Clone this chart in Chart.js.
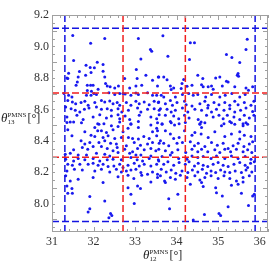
<!DOCTYPE html>
<html>
<head>
<meta charset="utf-8">
<title>theta13 vs theta12 scan</title>
<style>
  html, body { margin: 0; padding: 0; background: #fff; }
  #wrap { position: relative; width: 272px; height: 272px; }
  .axis-title { position: absolute; font-family: "Liberation Serif", serif; font-size: 12px; color: #222; white-space: nowrap; line-height: 14px; }
  .axis-title i { font-size: 13px; }
  .stack { display: inline-block; vertical-align: middle; font-size: 7px; line-height: 7px; margin: 0 1px 0 0; }
  .stack span { display: block; }
</style>
</head>
<body>
<div id="wrap">
  <canvas id="myChart" width="272" height="272"></canvas>
  <div class="axis-title" id="ytitle" style="left:1px; top:111px;"><i>θ</i><span class="stack"><span>PMNS</span><span>13</span></span>[°]</div>
  <div class="axis-title" id="xtitle" style="left:143px; top:248px;"><i>θ</i><span class="stack"><span>PMNS</span><span>12</span></span>[°]</div>
</div>
<script src="https://cdn.jsdelivr.net/npm/chart.js@4.4.1/dist/chart.umd.min.js"></script>
<script>
// axis ranges and tick labels
var xRange = [31, 36.2];
var yRange = [7.82, 9.2];
var xTicks = [31, 32, 33, 34, 35, 36];
var yTicks = [8.0, 8.2, 8.4, 8.6, 8.8, 9.0, 9.2];

// 1 sigma (red) and 3 sigma (blue) bounds
var sigma1Theta12 = [32.71, 34.21];
var sigma3Theta12 = [31.31, 35.89];
var sigma1Theta13 = [8.296, 8.704];
var sigma3Theta13 = [7.887, 9.115];

// scan points [theta12, theta13]
var scanPoints = [
  [31.50,9.07],[32.27,9.05],[31.93,9.02],[33.08,9.05],[33.37,8.98],[33.40,8.97],[31.52,8.91],[33.14,8.92],[32.09,8.90],[31.82,8.88],
  [32.23,8.885],[31.92,8.866],[32.02,8.864],[31.40,8.83],[31.66,8.84],[31.94,8.834],[33.03,8.853],[31.36,8.80],[31.38,8.796],[31.63,8.806],
  [31.81,8.817],[32.23,8.843],[32.27,8.806],[32.75,8.796],[33.05,8.796],[33.26,8.817],[33.56,8.806],[33.42,8.785],[31.61,8.774],[31.58,8.753],
  [31.85,8.753],[31.93,8.753],[31.99,8.753],[32.29,8.764],[32.33,8.749],[32.40,8.743],[32.51,8.736],[32.11,8.728],[31.85,8.72],[31.95,8.715],
  [32.60,8.749],[32.87,8.736],[33.02,8.749],[33.16,8.753],[33.54,8.749],
  [31.29,8.70],[31.40,8.689],[31.48,8.679],[31.83,8.689],[31.94,8.689],[32.01,8.70],[32.07,8.694],[32.37,8.706],[32.51,8.694],[32.63,8.70],
  [32.71,8.70],[32.76,8.698],[32.90,8.689],[33.02,8.704],[33.08,8.694],[33.30,8.706],[33.42,8.689],[33.52,8.689],
  [31.38,8.657],[31.49,8.647],[31.57,8.636],[31.70,8.643],[31.79,8.651],[31.87,8.626],[32.03,8.643],[32.19,8.657],[32.27,8.647],[32.39,8.653],
  [32.47,8.636],[32.57,8.643],[32.63,8.626],[32.79,8.643],[32.90,8.626],[33.02,8.651],[33.10,8.636],[33.22,8.647],[33.34,8.63],[33.46,8.651],[33.56,8.643],
  [31.33,8.615],[31.46,8.604],[31.56,8.594],[31.67,8.583],[31.78,8.60],[31.89,8.609],[32.07,8.615],[32.19,8.60],[32.33,8.604],[32.43,8.594],
  [32.59,8.604],[32.68,8.583],[32.84,8.594],[33.06,8.609],[33.14,8.583],[33.30,8.60],[33.46,8.604],[33.58,8.594],
  [31.36,8.551],[31.60,8.562],[31.75,8.536],[31.99,8.551],[32.15,8.566],[32.31,8.545],[32.43,8.557],[32.59,8.566],[32.63,8.54],[32.76,8.557],
  [32.87,8.536],[33.10,8.562],[33.38,8.551],[33.52,8.54],[33.58,8.566],
  [31.44,8.519],[31.52,8.519],[31.71,8.515],[32.10,8.509],[32.25,8.509],[32.63,8.519],[32.90,8.509],[33.08,8.523],[33.54,8.515],
  [33.67,9.068],[34.33,9.023],[34.43,9.023],[35.70,9.045],[35.67,8.98],[33.79,8.938],[34.31,8.917],[35.20,8.949],[35.33,8.93],[35.52,8.898],
  [33.57,8.806],[33.69,8.806],[33.77,8.789],[34.51,8.817],[34.63,8.796],[34.94,8.80],[35.04,8.806],[35.20,8.779],[35.24,8.774],[35.48,8.828],
  [35.46,8.817],[35.49,8.81],[34.17,8.79],
  [33.85,8.749],[33.93,8.736],[33.87,8.726],[34.13,8.764],[34.11,8.732],[34.25,8.747],[34.37,8.753],[34.60,8.757],[34.64,8.743],[34.76,8.743],
  [34.84,8.749],[34.88,8.728],[35.10,8.749],[35.40,8.743],[35.67,8.736],[35.73,8.721],[35.83,8.743],
  [33.63,8.689],[33.69,8.679],[33.97,8.679],[34.14,8.694],[34.29,8.70],[34.40,8.689],[34.51,8.694],[34.70,8.679],[34.84,8.694],[35.04,8.679],
  [35.17,8.689],[35.33,8.70],[35.52,8.679],[35.65,8.694],
  [33.57,8.647],[33.73,8.636],[33.85,8.657],[33.90,8.626],[34.01,8.643],[34.19,8.651],[34.23,8.63],[34.37,8.621],[34.56,8.636],[34.68,8.651],
  [34.76,8.626],[34.90,8.643],[35.02,8.63],[35.16,8.643],[35.28,8.626],[35.40,8.651],[35.48,8.63],[35.63,8.643],[35.79,8.626],[35.86,8.651],
  [33.61,8.604],[33.77,8.60],[33.87,8.583],[33.97,8.594],[34.14,8.609],[34.27,8.583],[34.44,8.60],[34.60,8.594],[34.75,8.609],[34.84,8.583],
  [34.96,8.60],[35.14,8.594],[35.28,8.604],[35.40,8.583],[35.54,8.594],[35.67,8.609],[35.83,8.587],
  [33.73,8.562],[33.85,8.523],[33.93,8.557],[34.05,8.54],[34.19,8.562],[34.30,8.545],[34.52,8.536],[34.59,8.519],[34.72,8.562],[34.88,8.551],
  [35.02,8.562],[35.12,8.54],[35.22,8.562],[35.28,8.523],[35.38,8.551],[35.52,8.536],[35.63,8.562],[35.75,8.545],[35.86,8.562],
  [33.65,8.509],[33.87,8.515],[34.06,8.509],[34.56,8.509],[34.68,8.515],[35.14,8.509],[35.32,8.515],[35.60,8.509],[35.67,8.515],
  [31.36,8.517],[32.03,8.485],[32.13,8.506],[32.43,8.496],[32.59,8.491],[32.83,8.479],[32.90,8.506],[33.08,8.485],[33.38,8.50],[33.52,8.479],
  [31.38,8.47],[31.79,8.457],[32.10,8.464],[32.19,8.464],[32.31,8.453],[32.47,8.47],[32.71,8.457],[33.42,8.457],[33.54,8.464],
  [31.48,8.432],[31.94,8.436],[32.03,8.428],[32.23,8.421],[32.35,8.432],[32.51,8.415],[32.67,8.421],[32.84,8.421],[32.94,8.415],[33.08,8.411],
  [33.21,8.428],[33.34,8.415],[33.52,8.432],
  [31.70,8.40],[31.79,8.379],[31.91,8.389],[32.13,8.389],[32.27,8.40],[32.41,8.385],[32.55,8.379],[32.79,8.368],[32.98,8.389],[33.13,8.372],
  [33.30,8.379],[33.42,8.389],[33.58,8.385],
  [31.52,8.343],[31.73,8.357],[31.86,8.347],[31.99,8.364],[32.19,8.364],[32.33,8.351],[32.47,8.336],[32.57,8.357],[32.75,8.347],[32.94,8.33],
  [33.06,8.351],[33.22,8.343],[33.38,8.351],[33.50,8.336],
  [31.32,8.315],[31.44,8.321],[31.63,8.309],[31.83,8.309],[32.07,8.321],[32.27,8.315],[32.39,8.304],[32.59,8.326],[32.87,8.321],[33.02,8.309],
  [33.14,8.309],[33.38,8.304],
  [31.33,8.283],[31.52,8.272],[31.63,8.287],[31.79,8.279],[31.99,8.287],[32.15,8.272],[32.33,8.279],[32.47,8.283],[32.67,8.279],[32.90,8.294],
  [33.05,8.279],[33.18,8.272],[33.34,8.287],[33.56,8.279],
  [31.38,8.251],[31.49,8.245],[31.67,8.251],[31.87,8.251],[31.99,8.257],[32.11,8.245],[32.23,8.251],[32.35,8.236],[32.49,8.24],[32.63,8.251],
  [32.71,8.23],[32.83,8.245],[32.98,8.257],[33.10,8.24],[33.22,8.251],[33.38,8.24],[33.52,8.251],
  [31.36,8.208],[31.54,8.219],[31.73,8.215],[32.03,8.208],[32.19,8.219],[32.39,8.202],[32.55,8.219],[32.67,8.202],[32.79,8.208],[32.90,8.215],
  [33.02,8.219],[33.14,8.198],[33.30,8.187],[33.42,8.202],[33.54,8.187],
  [31.33,8.177],[31.44,8.145],[31.63,8.155],[31.99,8.166],[32.23,8.134],[32.59,8.172],[32.83,8.181],[32.97,8.16],[33.16,8.181],[33.38,8.138],[33.54,8.166],
  [31.36,8.113],[31.48,8.096],[31.49,8.066],[32.83,8.102],[33.06,8.113],[33.13,8.096],[32.90,8.06],
  [31.38,8.066],[31.91,8.045],[32.27,8.017],[32.98,8.002],
  [31.91,7.968],[31.87,7.947],[32.41,7.938],[32.44,7.925],[32.37,7.91],
  [33.65,8.506],[33.95,8.50],[34.21,8.517],[34.56,8.506],[34.60,8.485],[35.08,8.496],[35.40,8.506],[35.60,8.496],[35.71,8.506],
  [33.73,8.464],[33.85,8.443],[33.93,8.415],[34.06,8.421],[34.19,8.464],[34.37,8.436],[34.44,8.453],[34.59,8.443],[34.76,8.421],[34.92,8.457],
  [35.16,8.428],[35.32,8.443],[35.52,8.457],[35.63,8.436],[35.79,8.428],[35.52,8.411],
  [33.61,8.40],[33.69,8.385],[33.81,8.368],[34.01,8.385],[34.14,8.389],[34.33,8.394],[34.43,8.368],[34.52,8.385],[34.68,8.364],[34.84,8.389],
  [34.98,8.372],[35.12,8.385],[35.24,8.351],[35.36,8.368],[35.48,8.385],[35.62,8.364],[35.75,8.379],[35.83,8.394],
  [33.57,8.347],[33.73,8.336],[33.89,8.326],[34.03,8.343],[34.22,8.326],[34.37,8.347],[34.51,8.33],[34.60,8.347],[34.75,8.33],[34.92,8.343],
  [35.04,8.326],[35.16,8.347],[35.30,8.33],[35.44,8.347],[35.60,8.33],[35.71,8.343],[35.81,8.326],
  [33.65,8.30],[33.85,8.309],[34.05,8.287],[34.25,8.283],[34.37,8.304],[34.51,8.294],[34.64,8.30],[34.83,8.287],[34.96,8.304],[35.16,8.287],
  [35.32,8.304],[35.48,8.287],[35.65,8.30],[35.79,8.283],
  [33.57,8.272],[33.69,8.251],[33.79,8.266],[33.93,8.245],[34.06,8.262],[34.21,8.251],[34.30,8.266],[34.43,8.24],[34.52,8.257],[34.64,8.245],
  [34.75,8.236],[34.88,8.251],[35.00,8.262],[35.12,8.245],[35.24,8.236],[35.38,8.251],[35.52,8.262],[35.65,8.245],[35.78,8.257],[35.87,8.266],
  [33.63,8.219],[33.75,8.202],[33.87,8.215],[33.98,8.194],[34.13,8.208],[34.27,8.198],[34.38,8.215],[34.51,8.202],[34.62,8.219],[34.72,8.194],
  [34.83,8.208],[34.94,8.198],[35.06,8.215],[35.16,8.202],[35.28,8.198],[35.41,8.208],[35.56,8.198],[35.67,8.215],[35.81,8.202],[35.71,8.23],
  [33.61,8.177],[33.71,8.145],[33.85,8.166],[33.97,8.155],[34.09,8.181],[34.25,8.166],[34.44,8.177],[34.56,8.151],[34.68,8.166],[34.83,8.177],
  [35.00,8.16],[35.14,8.177],[35.28,8.16],[35.44,8.145],[35.60,8.166],[35.75,8.177],
  [33.73,8.134],[34.33,8.123],[34.60,8.134],[34.64,8.109],[34.94,8.102],[35.32,8.117],[35.48,8.123],[35.60,8.138],
  [34.03,8.06],[33.81,8.032],[34.96,8.07],[35.10,8.049],[35.56,8.066],[35.87,8.06],[35.83,8.049],
  [33.83,7.968],[35.24,7.981],[35.73,7.989],
  [34.67,7.932],[35.02,7.938],[35.06,7.925],[34.40,7.896]
];

var RED = 'rgb(240,30,30)';
var BLUE = 'rgb(20,20,225)';

function vLine(v, color) {
  return { data: [{x: v, y: yRange[0]}, {x: v, y: yRange[1]}], showLine: true, borderColor: color,
           borderWidth: 1.5, borderDash: [7, 3], pointRadius: 0, fill: false };
}
function hLine(v, color) {
  return { data: [{x: xRange[0], y: v}, {x: xRange[1], y: v}], showLine: true, borderColor: color,
           borderWidth: 1.5, borderDash: [7, 3], pointRadius: 0, fill: false };
}

var datasets = [];
sigma1Theta12.forEach(function(v) { datasets.push(vLine(v, RED)); });
sigma1Theta13.forEach(function(v) { datasets.push(hLine(v, RED)); });
sigma3Theta12.forEach(function(v) { datasets.push(vLine(v, BLUE)); });
sigma3Theta13.forEach(function(v) { datasets.push(hLine(v, BLUE)); });
datasets.push({
  data: scanPoints.map(function(p) { return {x: p[0], y: p[1]}; }),
  pointRadius: 1.5, pointBackgroundColor: 'rgb(25,25,240)', pointBorderWidth: 0
});

// frame with inward ticks on all four sides (Mathematica style)
var frameTicks = {
  id: 'frameTicks',
  afterDatasetsDraw: function(chart) {
    var ctx = chart.ctx, a = chart.chartArea, x = chart.scales.x, y = chart.scales.y;
    ctx.save();
    ctx.strokeStyle = '#a0a0a0';
    ctx.lineWidth = 1;
    ctx.strokeRect(a.left + 0.5, a.top + 0.5, a.right - a.left - 1, a.bottom - a.top - 1);
    ctx.beginPath();
    for (var i = 0; i <= 26; i++) {
      var v = xRange[0] + i * 0.2;
      var px = Math.round(x.getPixelForValue(v)) + 0.5;
      var len = (i % 5 === 0) ? 5 : 3;
      ctx.moveTo(px, a.bottom); ctx.lineTo(px, a.bottom - len);
      ctx.moveTo(px, a.top); ctx.lineTo(px, a.top + len);
    }
    for (var j = 0; j <= 27; j++) {
      var w = 7.85 + j * 0.05;
      var py = Math.round(y.getPixelForValue(w)) + 0.5;
      var l2 = ((j + 3) % 4 === 0) ? 5 : 3;
      ctx.moveTo(a.left, py); ctx.lineTo(a.left + l2, py);
      ctx.moveTo(a.right, py); ctx.lineTo(a.right - l2, py);
    }
    ctx.stroke();
    ctx.restore();
  }
};

var tickFont = { family: 'Liberation Serif', size: 12 };

new Chart(document.getElementById('myChart'), {
  type: 'scatter',
  data: { datasets: datasets },
  options: {
    responsive: false,
    animation: false,
    layout: { padding: { top: 15, right: 2, left: 0, bottom: 0 } },
    plugins: { legend: { display: false }, tooltip: { enabled: false } },
    scales: {
      x: {
        min: xRange[0], max: xRange[1],
        grid: { display: false, drawTicks: false },
        border: { display: false },
        afterBuildTicks: function(s) { s.ticks = xTicks.map(function(v) { return {value: v}; }); },
        afterFit: function(s) { s.height = 40; },
        ticks: { font: tickFont, color: '#333', padding: 3, maxRotation: 0,
                 callback: function(v) { return String(v); } }
      },
      y: {
        min: yRange[0], max: yRange[1],
        grid: { display: false, drawTicks: false },
        border: { display: false },
        afterBuildTicks: function(s) { s.ticks = yTicks.map(function(v) { return {value: v}; }); },
        afterFit: function(s) { s.width = 52; },
        ticks: { font: tickFont, color: '#333', padding: 3,
                 callback: function(v) { return Number(v).toFixed(1); } }
      }
    }
  },
  plugins: [frameTicks]
});
</script>
</body>
</html>
